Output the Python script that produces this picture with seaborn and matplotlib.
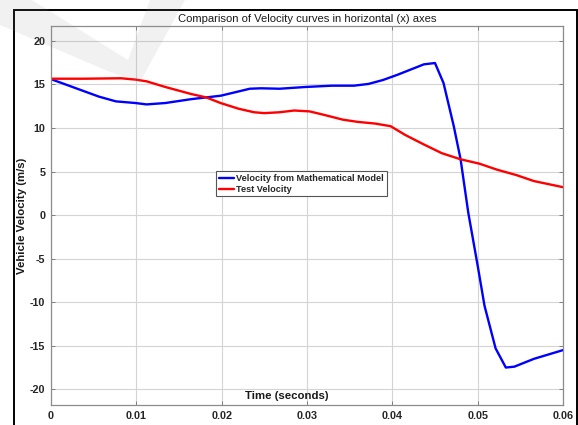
import numpy as np
import pandas as pd
import matplotlib
matplotlib.use("Agg")
import matplotlib.pyplot as plt
import seaborn as sns
from matplotlib.patches import Rectangle, Polygon

# ---- data ----
model_t = [0.0, 0.0028, 0.0056, 0.0076, 0.0099, 0.0112, 0.0134, 0.0164, 0.0199,
           0.0216, 0.0233, 0.0246, 0.0268, 0.0298, 0.0329, 0.0355, 0.0372, 0.0389,
           0.0406, 0.0437, 0.0450, 0.0460, 0.0472, 0.0480, 0.0489, 0.0500, 0.0508,
           0.0521, 0.0533, 0.0543, 0.0566, 0.0600]
model_v = [15.6, 14.6, 13.6, 13.05, 12.86, 12.7, 12.86, 13.3, 13.7,
           14.1, 14.5, 14.55, 14.5, 14.7, 14.85, 14.85, 15.05, 15.5,
           16.1, 17.3, 17.45, 15.15, 10.2, 6.4, 0.27, -5.8, -10.4,
           -15.3, -17.5, -17.4, -16.5, -15.5]

test_t = [0.0, 0.0039, 0.0082, 0.0099, 0.0112, 0.0134, 0.0164, 0.0182, 0.0199,
          0.0220, 0.0238, 0.0250, 0.0268, 0.0285, 0.0303, 0.0320, 0.0342, 0.0359,
          0.0380, 0.0398, 0.0415, 0.0437, 0.0458, 0.0480, 0.0502, 0.0523, 0.0545,
          0.0566, 0.0600]
test_v = [15.65, 15.65, 15.7, 15.55, 15.35, 14.7, 13.9, 13.5, 12.85,
          12.2, 11.8, 11.7, 11.8, 12.0, 11.9, 11.5, 10.95, 10.7,
          10.5, 10.2, 9.2, 8.1, 7.1, 6.4, 5.9, 5.2, 4.6,
          3.9, 3.2]

series_names = ["Velocity from Mathematical Model", "Test Velocity"]
xticks = [0, 0.01, 0.02, 0.03, 0.04, 0.05, 0.06]
xtick_labels = ["0", "0.01", "0.02", "0.03", "0.04", "0.05", "0.06"]
yticks = [-20, -15, -10, -5, 0, 5, 10, 15, 20]

df = pd.concat([
    pd.DataFrame({"t": model_t, "v": model_v, "series": series_names[0]}),
    pd.DataFrame({"t": test_t, "v": test_v, "series": series_names[1]}),
], ignore_index=True)

sns.set_theme(style="whitegrid")
plt.rcParams["font.family"] = ["Liberation Sans", "DejaVu Sans"]
plt.rcParams["axes.unicode_minus"] = False

fig = plt.figure(figsize=(5.78, 4.25), dpi=100)
ax = fig.add_axes([51/578, 20/425, (563-51)/578, (405-26)/425])

sns.lineplot(data=df, x="t", y="v", hue="series", palette=["#0000ff", "#ff0000"],
             linewidth=1.7, ax=ax, legend=False, sort=False)

ax.set_xlim(0, 0.06)
ax.set_ylim(-21.8, 21.7)
ax.set_xticks(xticks)
ax.set_xticklabels(xtick_labels)
ax.set_yticks(yticks)
for lab in ax.get_xticklabels() + ax.get_yticklabels():
    lab.set_fontsize(7.8)
    lab.set_fontweight("bold")
    lab.set_color("#262626")

ax.tick_params(axis="both", direction="in", length=3, width=0.6, color="#707070",
               top=True, right=True, bottom=True, left=True, pad=4)
ax.grid(True, color="#d4d4d4", linewidth=0.8)
for s in ax.spines.values():
    s.set_color("#8c8c8c")
    s.set_linewidth(0.9)
ax.set_facecolor("white")

ax.set_title("Comparison of Velocity curves in horizontal (x) axes",
             fontsize=8.1, pad=3, color="#1a1a1a")
ax.set_xlabel("Time (seconds)", fontsize=8.2, fontweight="bold", color="#1a1a1a")
ax.xaxis.set_label_coords(0.46, 0.037)
ax.set_ylabel("Vehicle Velocity (m/s)", fontsize=8.2, fontweight="bold",
              color="#1a1a1a")
ax.yaxis.set_label_coords(-0.046, 0.5)

handles = ax.get_lines()[:2]
leg = ax.legend(handles, series_names, loc="upper left",
                bbox_to_anchor=(0.322, 0.617), fancybox=False, framealpha=1,
                edgecolor="#555555", prop={"size": 6.6, "weight": "bold"},
                handlelength=1.7, handletextpad=0.25, borderpad=0.3,
                labelspacing=0.2, borderaxespad=0)
leg.get_frame().set_linewidth(0.8)

# outer figure frame
fig.patches.append(Rectangle((14/578, -0.05), (577-14)/578, (425-10)/425 + 0.05,
                             transform=fig.transFigure, fill=False,
                             edgecolor="black", linewidth=1.4, zorder=5))

# faint watermark check mark (top left)
def px(pts):
    return [(x/578, 1 - y/425) for x, y in pts]
fig.patches.append(Polygon(px([(0, 0), (32, 0), (128, 60), (140, 82), (110, 72), (0, 25)]),
                           closed=True, transform=fig.transFigure, facecolor="#909090",
                           edgecolor="none", alpha=0.12, zorder=10))
fig.patches.append(Polygon(px([(150, 0), (185, 0), (140, 82), (128, 60)]),
                           closed=True, transform=fig.transFigure, facecolor="#909090",
                           edgecolor="none", alpha=0.12, zorder=10))

fig.savefig("out.png", dpi=100, facecolor="white")
